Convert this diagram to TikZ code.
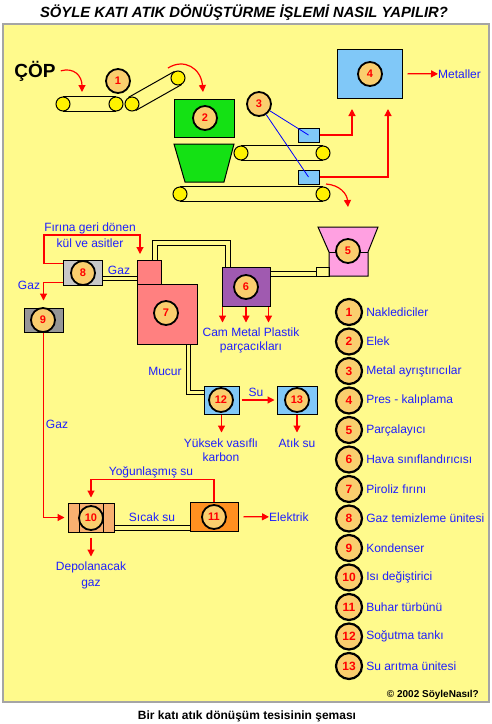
\documentclass[tikz,border=0pt]{standalone}
\usepackage{fontspec}
\setmainfont{Liberation Sans}
\usepackage{tikz}
\usetikzlibrary{arrows.meta,shapes}
\definecolor{panel}{RGB}{255,250,140}
\definecolor{panelline}{RGB}{165,165,165}
\definecolor{circfill}{RGB}{250,206,110}
\definecolor{green2}{RGB}{20,225,20}
\definecolor{lblue}{RGB}{128,200,248}
\definecolor{pink5}{RGB}{255,160,225}
\definecolor{purple6}{RGB}{160,90,176}
\definecolor{salmon7}{RGB}{255,128,128}
\definecolor{gray8}{RGB}{200,200,200}
\definecolor{gray9}{RGB}{150,150,150}
\definecolor{orange10}{RGB}{248,176,112}
\definecolor{orange11}{RGB}{255,144,32}
\definecolor{txtblue}{RGB}{30,30,255}
\tikzset{num/.style={circle,draw,line width=1.8pt,fill=circfill,minimum size=24pt,inner sep=0pt,text=red,font=\bfseries\fontsize{11}{11}\selectfont},
  lnum/.style={num,minimum size=26pt,line width=2.2pt,font=\bfseries\fontsize{12}{12}\selectfont},
  box/.style={draw,line width=1pt,inner sep=0pt},
  roller/.style={circle,draw,fill=yellow,line width=1pt,minimum size=14pt,inner sep=0pt},
  belt/.style={line width=1pt},
  pipe/.style={line width=1pt,double=panel,double distance=3.5pt},
  redarr/.style={draw=red,line width=1.2pt,-{Triangle[length=7pt,width=7pt]}},
  lbl/.style={text=txtblue,inner sep=0pt,font=\fontsize{12}{14}\selectfont}}
\begin{document}
\begin{tikzpicture}[x=1pt,y=-1pt,node distance=29.5pt]
\useasboundingbox (0,0) rectangle (492,724);
\fill[white] (0,0) rectangle (492,724);
\draw[draw=panelline,line width=2.5pt,fill=panel] (3,24) rectangle (489,702);
\node[anchor=base,inner sep=0pt,font=\bfseries\itshape\fontsize{14.8}{14.8}\selectfont] (title) at (244,17) {SÖYLE KATI ATIK DÖNÜŞTÜRME İŞLEMİ NASIL YAPILIR?};
\node[anchor=base,inner sep=0pt,font=\bfseries\fontsize{12}{12}\selectfont] (caption) at (247,719) {Bir katı atık dönüşüm tesisinin şeması};
\node[anchor=base east,inner sep=0pt,font=\bfseries\fontsize{10}{10}\selectfont] (copy) at (479,697) {© 2002 SöyleNasıl?};

% conveyors
\node[anchor=base,inner sep=0pt,font=\bfseries\fontsize{19}{19}\selectfont] (cop) at (35,77) {ÇÖP};
\coordinate (copend) at (82,92);
\draw[redarr] ([xshift=5pt]cop.east) .. controls (74,67) and (82,76) .. (copend);
\node[roller] (r1) at (63,104) {};
\node[roller] (r2) at (116,104) {};
\draw[belt] (r1.north) -- (r2.north) (r1.south) -- (r2.south);
\node[roller] (r3) at (132,104) {};
\node[roller] (r4) at (178,78) {};
\draw[belt] (r3.119.5) -- (r4.119.5) (r3.-60.5) -- (r4.-60.5);
\node[num] (c1) at (118,81) {1};
\coordinate (drop1s) at (168,68);
\coordinate (drop1e) at (203,92);
\draw[redarr] (drop1s) .. controls (184,58) and (201,68) .. (drop1e);

% sieve
\node[box,fill=green2,minimum width=60pt,minimum height=38pt] (b2) at (204.5,118) {};
\node[num] (c2) at (205,118) {2};
\draw[box,fill=green2] (174,144) -- (234,144) -- (224,182) -- (185,182) -- cycle;
\node[roller] (r5) at (241,153) {};
\node[roller] (r6) at (323,153) {};
\draw[belt] (r5.north) -- (r6.north) (r5.south) -- (r6.south);
\node[roller] (r7) at (180,194) {};
\node[roller] (r8) at (323,194) {};
\draw[belt] (r7.north) -- (r8.north) (r7.south) -- (r8.south);

% metal separators and press
\node[box,fill=lblue,minimum width=21pt,minimum height=14pt] (sa) at (308.5,135) {};
\node[box,fill=lblue,minimum width=21pt,minimum height=14pt] (sb) at (308.5,177) {};
\node[num] (c3) at (259,104) {3};
\draw[blue,line width=0.8pt] (c3) -- (sa.center) (c3) -- (sb.center);
\node[box,fill=lblue,minimum width=65pt,minimum height=49pt] (b4) at (369.5,73.5) {};
\node[num] (c4) at (370,74) {4};
\coordinate (up1) at (352,109);
\coordinate (up2) at (388,109);
\draw[redarr] (sa.east) -| (up1);
\draw[redarr] (sb.east) -| (up2);
\node[lbl,anchor=west] (met) at (438,74) {Metaller};
\draw[redarr,shorten <=5pt] (b4) -- (met);
\coordinate (drop2s) at (326,184);
\coordinate (drop2e) at (348,207);
\draw[redarr] (drop2s) .. controls (340,185) and (347,194) .. (drop2e);

% shredder and air classifier
\draw[box,fill=pink5] (318,227) -- (378,227) -- (368,252) -- (368,276) -- (329,276) -- (329,252) -- cycle;
\draw[line width=1pt] (329,252) -- (368,252);
\node[box,minimum width=13pt,minimum height=9pt] (feed) at (322.5,271.5) {};
\node[num] (c5) at (348,251) {5};
\node[box,fill=purple6,minimum width=48pt,minimum height=39pt] (b6) at (246,286.5) {};
\node[num] (c6) at (246,287) {6};
\draw[pipe] (b6.east |- 0,274) -- (feed.west |- 0,274);
\draw[redarr] ([xshift=1pt]b6.south west) -- ++(0,16);
\draw[redarr] (b6.south) -- ++(0,16);
\draw[redarr] ([xshift=-2pt]b6.south east) -- ++(0,16);
\node[lbl,align=center] (cmp) at (251,340) {Cam Metal Plastik\\parçacıkları};

% pyrolysis
\node[box,fill=salmon7,minimum width=24pt,minimum height=24pt] (chim) at (149,272) {};
\node[box,fill=salmon7,minimum width=60pt,minimum height=60pt] (b7) at (167,314) {};
\node[num] (c7) at (166,313) {7};
\draw[pipe] (chim.north -| 155,0) |- (228,243) -- (b6.north -| 228,0);
\node[box,fill=gray8,minimum width=39pt,minimum height=25pt] (b8) at (82.5,272.5) {};
\node[num] (c8) at (83,273) {8};
\draw[pipe] (b8.east |- 0,278.5) -- (chim.west |- 0,278.5);
\node[lbl] (gaz1) at (119,270) {Gaz};
\coordinate (ret) at (140,254);
\draw[redarr] ([yshift=-4pt]b8.north west) -| (44,235) -| (ret);
\node[lbl,align=center,font=\fontsize{12}{16}\selectfont] (firin) at (90,235) {Fırına geri dönen\\kül ve asitler};
\node[box,fill=gray9,minimum width=39pt,minimum height=24pt] (b9) at (43.5,320) {};
\node[num] (c9) at (43,320) {9};
\draw[redarr] ([yshift=3pt]b8.south west) -| ([yshift=7pt]b9.north);
\node[lbl] (gaz2) at (29,285) {Gaz};
\node[lbl] (mucur) at (165,371) {Mucur};

% cooling tank
\node[box,fill=lblue,minimum width=35pt,minimum height=28pt] (b12) at (221.5,400) {};
\node[num] (c12) at (221,400) {12};
\node[box,fill=lblue,minimum width=40pt,minimum height=28pt] (b13) at (297,400) {};
\node[num] (c13) at (297,400) {13};
\draw[pipe] (b7.south -| 188.5,0) |- (b12.west |- 0,392.5);
\draw[redarr,shorten <=2pt,shorten >=2pt] (b12) -- (b13);
\node[lbl] (su) at (256,392) {Su};
\draw[redarr] (b12.south) -- ++(0,18);
\draw[redarr] (b13.south) -- ++(0,18);
\node[lbl,align=center] (karbon) at (221,450) {Yüksek vasıflı\\karbon};
\node[lbl] (atiksu) at (297,443) {Atık su};

% heat exchanger and turbine
\node[box,fill=orange10,minimum width=46pt,minimum height=29pt] (b10) at (91,517.5) {};
\draw[line width=1pt] (79,503) -- (79,532) (103,503) -- (103,532);
\node[num] (c10) at (91,518) {10};
\node[box,fill=orange11,minimum width=48pt,minimum height=29pt] (b11) at (214,516.5) {};
\node[num] (c11) at (214,517) {11};
\draw[pipe] (b10.east |- 0,528) -- (b11.west |- 0,528);
\node[lbl] (sicak) at (152,517) {Sıcak su};
\draw[redarr,shorten >=3pt] (b9.south) |- (b10.west);
\node[lbl] (gaz3) at (57,424) {Gaz};
\draw[redarr] (b11.north) -- ++(0,-22) -| ([yshift=5pt]b10.north);
\node[lbl] (yog) at (151,472) {Yoğunlaşmış su};
\node[lbl,anchor=west] (ele) at (269,517) {Elektrik};
\draw[redarr,shorten <=5pt] (b11) -- (ele);
\draw[redarr] ([yshift=-5pt]b10.south) -- ++(0,19);
\node[lbl,align=center,font=\fontsize{12}{16}\selectfont] (depo) at (91,575) {Depolanacak\\gaz};

% legend
\node[lnum] (l1) at (349,312) {1};
\node[lnum] (l2) [below of=l1] {2};
\node[lnum] (l3) [below of=l2] {3};
\node[lnum] (l4) [below of=l3] {4};
\node[lnum] (l5) [below of=l4] {5};
\node[lnum] (l6) [below of=l5] {6};
\node[lnum] (l7) [below of=l6] {7};
\node[lnum] (l8) [below of=l7] {8};
\node[lnum] (l9) [below of=l8] {9};
\node[lnum] (l10) [below of=l9] {10};
\node[lnum] (l11) [below of=l10] {11};
\node[lnum] (l12) [below of=l11] {12};
\node[lnum] (l13) [below of=l12] {13};
\node[lbl,anchor=west] (t1) at ([xshift=3pt]l1.east) {Naklediciler};
\node[lbl,anchor=west] (t2) at ([xshift=3pt]l2.east) {Elek};
\node[lbl,anchor=west] (t3) at ([xshift=3pt]l3.east) {Metal ayrıştırıcılar};
\node[lbl,anchor=west] (t4) at ([xshift=3pt]l4.east) {Pres - kalıplama};
\node[lbl,anchor=west] (t5) at ([xshift=3pt]l5.east) {Parçalayıcı};
\node[lbl,anchor=west] (t6) at ([xshift=3pt]l6.east) {Hava sınıflandırıcısı};
\node[lbl,anchor=west] (t7) at ([xshift=3pt]l7.east) {Piroliz fırını};
\node[lbl,anchor=west] (t8) at ([xshift=3pt]l8.east) {Gaz temizleme ünitesi};
\node[lbl,anchor=west] (t9) at ([xshift=3pt]l9.east) {Kondenser};
\node[lbl,anchor=west] (t10) at ([xshift=3pt]l10.east) {Isı değiştirici};
\node[lbl,anchor=west] (t11) at ([xshift=3pt]l11.east) {Buhar türbünü};
\node[lbl,anchor=west] (t12) at ([xshift=3pt]l12.east) {Soğutma tankı};
\node[lbl,anchor=west] (t13) at ([xshift=3pt]l13.east) {Su arıtma ünitesi};
\end{tikzpicture}
\end{document}
